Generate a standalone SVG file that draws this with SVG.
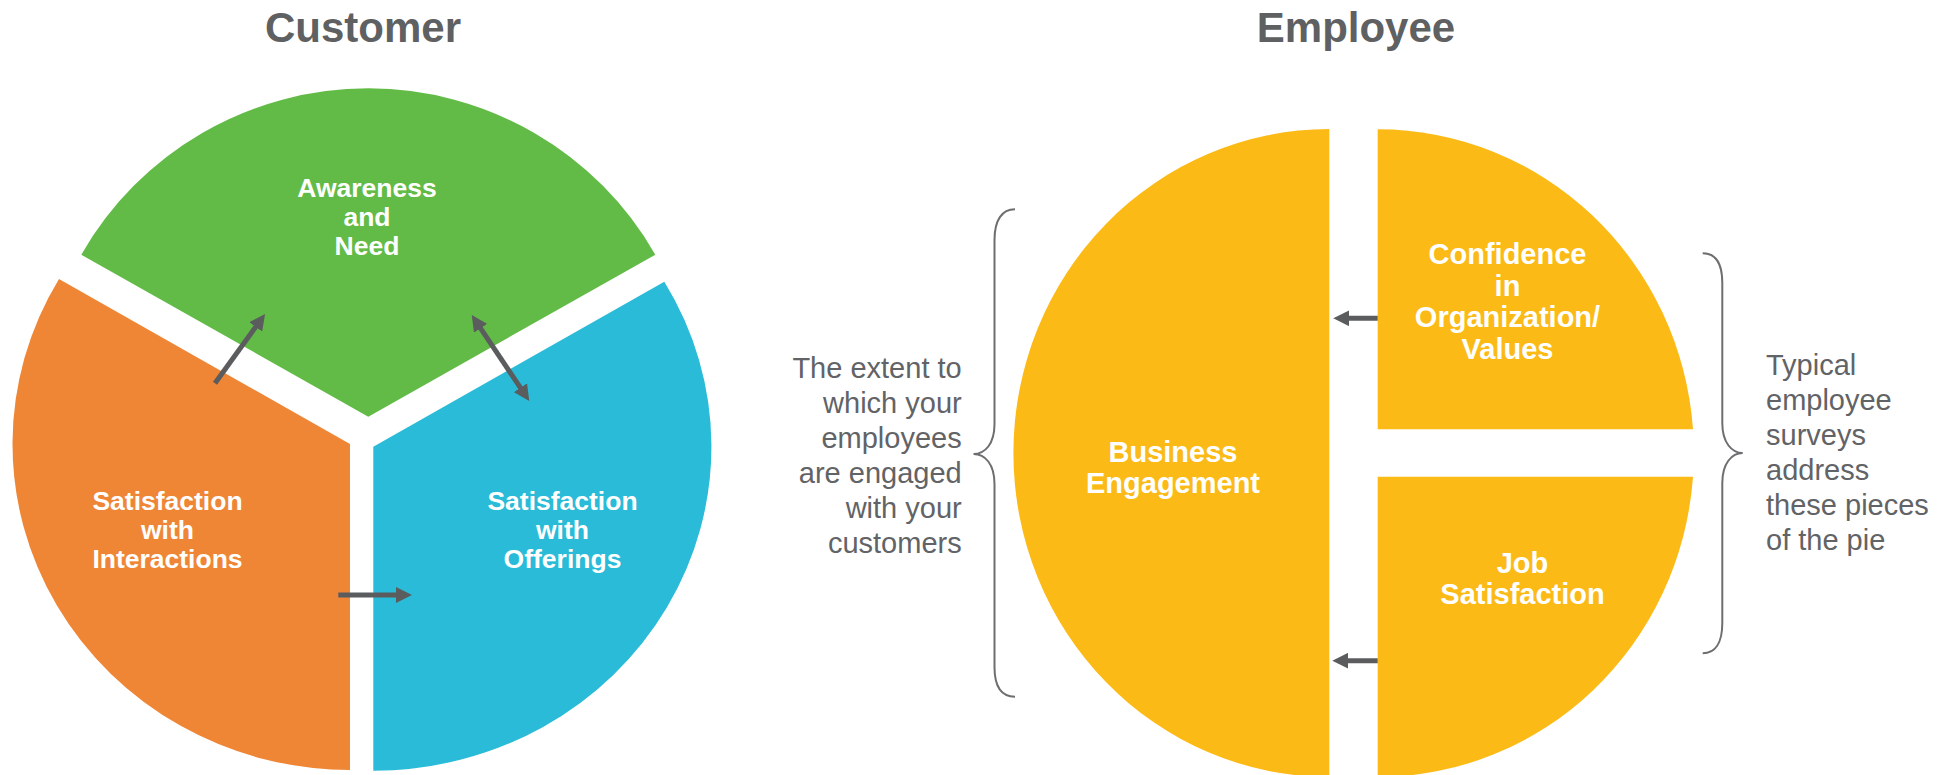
<svg xmlns="http://www.w3.org/2000/svg" width="1946" height="775" viewBox="0 0 1946 775">
  <style>
    .title { font-family: "Liberation Sans", Arial, sans-serif; font-weight: bold; font-size: 42px; fill: #5F6062; text-anchor: middle; }
    .clabel { font-family: "Liberation Sans", Arial, sans-serif; font-weight: bold; font-size: 26.5px; fill: #FFFFFF; text-anchor: middle; }
    .elabel { font-family: "Liberation Sans", Arial, sans-serif; font-weight: bold; font-size: 29px; fill: #FFFFFF; text-anchor: middle; }
    .note { font-family: "Liberation Sans", Arial, sans-serif; font-size: 29px; fill: #626366; }
    .brace { fill: none; stroke: #6D6E70; stroke-width: 2; }
    .conn { fill: none; stroke: #5B5C5E; stroke-width: 5; }
    .green { fill: #62BB46; }
    .orange { fill: #EF8636; }
    .blue { fill: #29BBD7; }
    .yellow { fill: #FCBA16; }
  </style>
  <defs>
    <marker id="ah" markerUnits="userSpaceOnUse" markerWidth="16" markerHeight="16" viewBox="0 0 16 16" refX="6" refY="8" orient="auto-start-reverse">
      <path d="M0,0 L16,8 L0,16 Z" fill="#5B5C5E"/>
    </marker>
  </defs>

  <g id="title-customer">
    <text class="title" x="363" y="41.5">Customer</text>
  </g>
  <g id="title-employee">
    <text class="title" x="1356" y="41.5">Employee</text>
  </g>

  <g id="node-awareness">
    <path class="green" d="M368.3,416.7 L81.3,254.7 A330 328.5 0 0 1 655.3,254.7 Z"/>
    <text class="clabel" x="367" y="196.7">Awareness</text>
    <text class="clabel" x="367" y="225.7">and</text>
    <text class="clabel" x="367" y="255">Need</text>
  </g>

  <g id="node-interactions">
    <path class="orange" d="M350,444 L59,279 A338 326 0 0 0 350,770 Z"/>
    <text class="clabel" x="167.5" y="510">Satisfaction</text>
    <text class="clabel" x="167.5" y="539">with</text>
    <text class="clabel" x="167.5" y="568">Interactions</text>
  </g>

  <g id="node-offerings">
    <path class="blue" d="M373.3,446.7 L664.3,281.7 A338 324 0 0 1 373.3,770.7 Z"/>
    <text class="clabel" x="562.5" y="510">Satisfaction</text>
    <text class="clabel" x="562.5" y="539">with</text>
    <text class="clabel" x="562.5" y="568">Offerings</text>
  </g>

  <g id="node-business">
    <path class="yellow" d="M1329.3,129 A316 324 0 0 0 1329.3,777 Z"/>
    <text class="elabel" x="1173" y="461.7">Business</text>
    <text class="elabel" x="1173" y="493.3">Engagement</text>
  </g>

  <g id="node-confidence">
    <path class="yellow" d="M1377.7,429.3 L1377.7,129.3 A316 324 0 0 1 1693,429.3 Z"/>
    <text class="elabel" x="1507.5" y="264">Confidence</text>
    <text class="elabel" x="1507.5" y="295.5">in</text>
    <text class="elabel" x="1507.5" y="327">Organization/</text>
    <text class="elabel" x="1507.5" y="358.5">Values</text>
  </g>

  <g id="node-job">
    <path class="yellow" d="M1377.7,476.7 L1693,476.7 A316 324 0 0 1 1377.7,777 Z"/>
    <text class="elabel" x="1522.5" y="572.7">Job</text>
    <text class="elabel" x="1522.5" y="604.3">Satisfaction</text>
  </g>

  <g id="note-left">
    <path class="brace" d="M1015,209.3 C1002,209.3 994.5,220 994.5,240 L994.5,424 C994.5,444 985,454 973.5,454 C985,454 994.5,464 994.5,484 L994.5,667 C994.5,687 1002,696.7 1015,696.7"/>
    <text class="note" text-anchor="end" x="961.7" y="378.3">The extent to</text>
    <text class="note" text-anchor="end" x="961.7" y="413">which your</text>
    <text class="note" text-anchor="end" x="961.7" y="448">employees</text>
    <text class="note" text-anchor="end" x="961.7" y="483">are engaged</text>
    <text class="note" text-anchor="end" x="961.7" y="518">with your</text>
    <text class="note" text-anchor="end" x="961.7" y="553">customers</text>
  </g>

  <g id="note-right">
    <path class="brace" d="M1702.7,253.3 C1715,253.3 1722.3,263 1722.3,283 L1722.3,423 C1722.3,443 1732,453 1742.7,453 C1732,453 1722.3,463 1722.3,483 L1722.3,623 C1722.3,643 1715,653.3 1702.7,653.3"/>
    <text class="note" x="1766" y="375">Typical</text>
    <text class="note" x="1766" y="410">employee</text>
    <text class="note" x="1766" y="445">surveys</text>
    <text class="note" x="1766" y="480">address</text>
    <text class="note" x="1766" y="515">these pieces</text>
    <text class="note" x="1766" y="550">of the pie</text>
  </g>

  <g id="connectors">
    <line class="conn" x1="215" y1="383.3" x2="259.2" y2="322.1" marker-end="url(#ah)"/>
    <line class="conn" x1="477.3" y1="323.3" x2="523.7" y2="392.7" marker-start="url(#ah)" marker-end="url(#ah)"/>
    <line class="conn" x1="338.3" y1="595" x2="402" y2="595" marker-end="url(#ah)"/>
    <line class="conn" x1="1377.7" y1="318.3" x2="1343.3" y2="318.3" marker-end="url(#ah)"/>
    <line class="conn" x1="1377.7" y1="660.7" x2="1342.3" y2="660.7" marker-end="url(#ah)"/>
  </g>
</svg>
